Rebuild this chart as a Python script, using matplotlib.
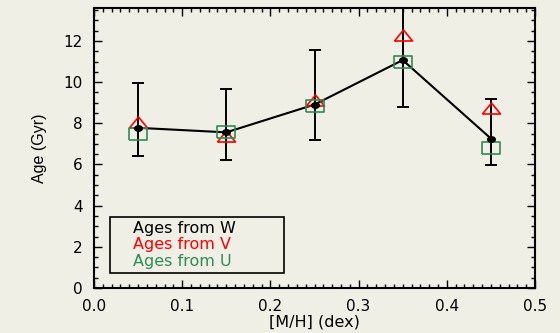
import matplotlib.pyplot as plt
from matplotlib.patches import Rectangle
from matplotlib.ticker import MultipleLocator
import numpy as np

# metallicity bins and ages
mh = [0.05, 0.15, 0.25, 0.35, 0.45]
age_w = [7.78, 7.56, 8.91, 11.07, 7.26]
age_w_lo = [6.40, 6.23, 7.21, 8.78, 5.97]
age_w_hi = [9.97, 9.67, 11.56, 13.90, 9.19]
age_v = [8.04, 7.39, 9.12, 12.28, 8.74]
age_u = [7.50, 7.58, 8.83, 11.00, 6.80]

legend_labels = ["Ages from W", "Ages from V", "Ages from U"]
legend_colors = ["black", "red", "#2e8b57"]

bg = "#f0efe6"

# flattened markers
tri = [(-1, -0.61), (1, -0.61), (0, 0.61), (-1, -0.61)]
box = [(-1, -0.61), (1, -0.61), (1, 0.61), (-1, 0.61), (-1, -0.61)]
dot = [(np.cos(t), 0.72 * np.sin(t)) for t in np.linspace(0, 2 * np.pi, 25)]

fig = plt.figure(figsize=(5.6, 3.33), dpi=100, facecolor=bg)
ax = fig.add_axes([94 / 560, 45 / 333, 441 / 560, 280 / 333])
ax.set_facecolor(bg)

w = np.array(age_w)
yerr = [w - np.array(age_w_lo), np.array(age_w_hi) - w]

ax.errorbar(mh, age_w, yerr=yerr, color="black", lw=1.5, elinewidth=1.4,
            capsize=4.3, capthick=1.4, zorder=2)
ax.plot(mh, age_v, linestyle="none", marker=tri, markersize=13,
        markerfacecolor="none", markeredgecolor="red", markeredgewidth=1.2, zorder=3)
ax.plot(mh, age_u, linestyle="none", marker=box, markersize=13,
        markerfacecolor="none", markeredgecolor="#2e8b57", markeredgewidth=1.2, zorder=3)
ax.plot(mh, age_w, linestyle="none", marker=dot, markersize=5.5,
        color="black", zorder=4)

ax.set_xlim(0, 0.5)
ax.set_ylim(0, 13.6)
ax.xaxis.set_major_locator(MultipleLocator(0.1))
ax.xaxis.set_minor_locator(MultipleLocator(0.01))
ax.yaxis.set_major_locator(MultipleLocator(2))
ax.yaxis.set_minor_locator(MultipleLocator(0.5))
ax.tick_params(which="both", direction="in", top=True, right=True, width=1, labelsize=11)
ax.tick_params(which="major", length=6)
ax.tick_params(which="minor", length=3)
ax.tick_params(axis="x", pad=8)
ax.tick_params(axis="y", pad=8)
for s in ax.spines.values():
    s.set_linewidth(1.5)

ax.set_xlabel("[M/H] (dex)", fontsize=11.5, labelpad=0)
ax.set_ylabel("Age (Gyr)", fontsize=11.5, family="Liberation Sans", labelpad=12)

# legend box
ax.add_patch(Rectangle((0.036, 0.054), 0.395, 0.2, transform=ax.transAxes,
                       fill=False, edgecolor="black", lw=1.2, zorder=5))
for i, (lab, col) in enumerate(zip(legend_labels, legend_colors)):
    ax.text(0.088, 0.214 - i * 0.06, lab, color=col, fontsize=11.5,
            transform=ax.transAxes, va="center", ha="left", zorder=6)

fig.savefig("out.png", dpi=100, facecolor=bg)
